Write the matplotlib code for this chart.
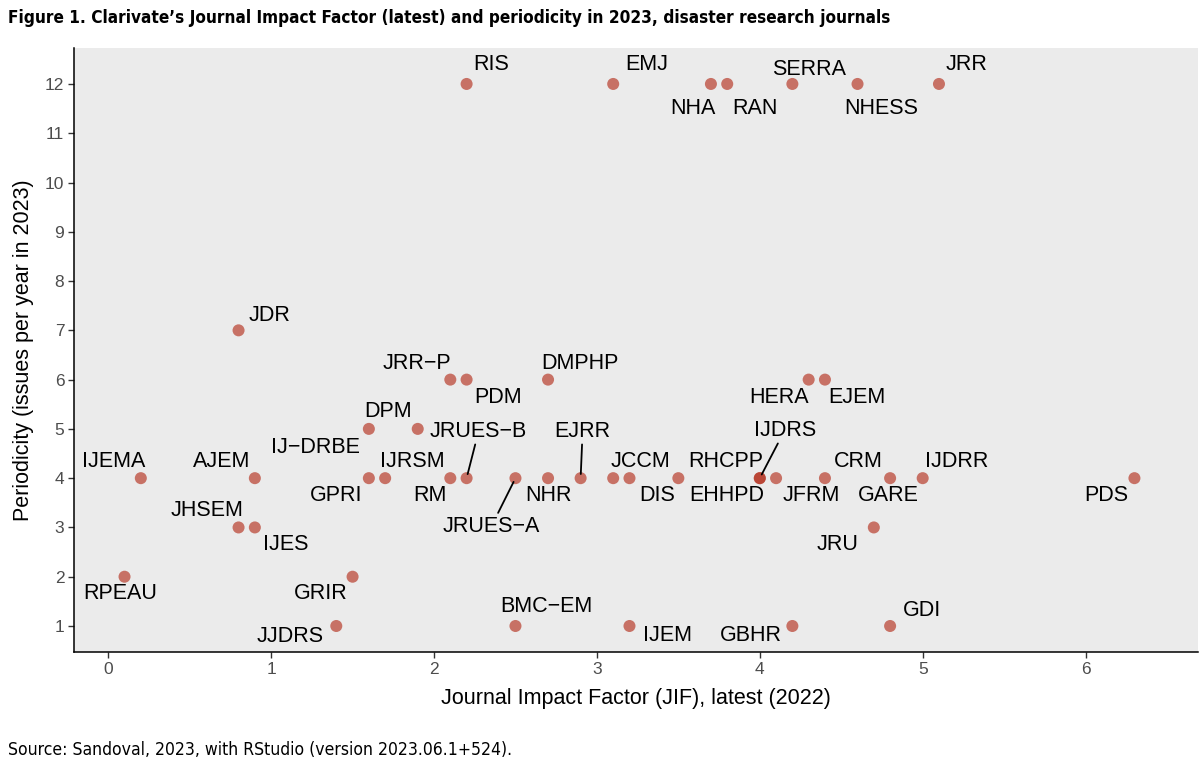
import matplotlib
matplotlib.use("Agg")
import matplotlib.pyplot as plt

# journals: abbreviation, JIF (2022), issues per year (2023)
journals = ["RIS", "EMJ", "NHA", "RAN", "SERRA", "NHESS", "JRR",
            "JDR",
            "JRR-P", "PDM", "DMPHP", "HERA", "EJEM",
            "IJ-DRBE", "DPM",
            "IJEMA", "AJEM", "GPRI", "IJRSM", "RM", "JRUES-B", "JRUES-A", "NHR",
            "EJRR", "JCCM", "DIS", "RHCPP", "EHHPD", "IJDRS", "JFRM", "CRM",
            "GARE", "IJDRR", "PDS",
            "JHSEM", "IJES", "JRU",
            "RPEAU", "GRIR",
            "JJDRS", "BMC-EM", "IJEM", "GBHR", "GDI"]
jif = [2.2, 3.1, 3.7, 3.8, 4.2, 4.6, 5.1,
       0.8,
       2.1, 2.2, 2.7, 4.3, 4.4,
       1.6, 1.9,
       0.2, 0.9, 1.6, 1.7, 2.1, 2.2, 2.5, 2.7,
       2.9, 3.1, 3.2, 3.5, 4.0, 4.0, 4.1, 4.4,
       4.8, 5.0, 6.3,
       0.8, 0.9, 4.7,
       0.1, 1.5,
       1.4, 2.5, 3.2, 4.2, 4.8]
issues = [12, 12, 12, 12, 12, 12, 12,
          7,
          6, 6, 6, 6, 6,
          5, 5,
          4, 4, 4, 4, 4, 4, 4, 4,
          4, 4, 4, 4, 4, 4, 4, 4,
          4, 4, 4,
          3, 3, 3,
          2, 2,
          1, 1, 1, 1, 1]

# label placement (pixel offsets from the point, repel-style)
label_offsets = {
    "RIS": (25, 19), "EMJ": (34, 19), "NHA": (-18, -25), "RAN": (28, -25),
    "SERRA": (17, 14), "NHESS": (24, -25), "JRR": (28, 19),
    "JDR": (31, 15),
    "JRR-P": (-33, 16), "PDM": (31, -18), "DMPHP": (32, 16),
    "HERA": (-30, -18), "EJEM": (32, -18),
    "IJ-DRBE": (-53, -19), "DPM": (-30, 17),
    "IJEMA": (-27, 17), "AJEM": (-33, 17), "GPRI": (-33, -17),
    "IJRSM": (27, 17), "RM": (-20, -17), "JRUES-B": (12, 47),
    "JRUES-A": (-24, -48), "NHR": (0, -17), "EJRR": (2, 47),
    "JCCM": (27, 17), "DIS": (28, -17), "RHCPP": (47, 17),
    "EHHPD": (-33, -17), "IJDRS": (25, 48), "JFRM": (35, -17),
    "CRM": (33, 17), "GARE": (-2, -17), "IJDRR": (34, 17), "PDS": (-28, -17),
    "JHSEM": (-32, 17), "IJES": (31, -17), "JRU": (-36, -17),
    "RPEAU": (-4, -17), "GRIR": (-32, -17),
    "JJDRS": (-46, -11), "BMC-EM": (31, 19), "IJEM": (38, -10),
    "GBHR": (-41, -10), "GDI": (32, 15),
}
with_segment = ["JRUES-B", "JRUES-A", "EJRR", "IJDRS"]

plt.rcParams["font.family"] = ["Liberation Sans", "DejaVu Sans"]

fig = plt.figure(figsize=(12, 7.69), dpi=100)
ax = fig.add_axes([0.0617, 0.152, 0.9366, 0.7856])
ax.set_facecolor("#EBEBEB")

ax.scatter(jif, issues, s=75, color="#B4301E", alpha=0.65,
           edgecolors="none", zorder=3)

for name, x, y in zip(journals, jif, issues):
    dx, dy = label_offsets[name]
    txt = name.replace("-", "\u2212")
    if name in with_segment:
        ax.annotate(txt, (x, y), xytext=(dx, dy), textcoords="offset pixels",
                    ha="center", va="center", fontsize=15.5, color="black",
                    arrowprops=dict(arrowstyle="-", color="black", lw=1.3,
                                    shrinkA=0, shrinkB=3), zorder=4)
    else:
        ax.annotate(txt, (x, y), xytext=(dx, dy), textcoords="offset pixels",
                    ha="center", va="center", fontsize=15.5, color="black",
                    zorder=4)

ax.set_xlim(-0.21, 6.69)
ax.set_ylim(0.47, 12.73)
ax.set_xticks(range(0, 7))
ax.set_yticks(range(1, 13))

for side in ["top", "right"]:
    ax.spines[side].set_visible(False)
for side in ["left", "bottom"]:
    ax.spines[side].set_linewidth(1.1)
    ax.spines[side].set_color("black")
ax.tick_params(axis="both", length=4, width=1, color="#333333",
               labelcolor="#4D4D4D", labelsize=12.5, pad=3)

ax.set_xlabel("Journal Impact Factor (JIF), latest (2022)", fontsize=15.5,
              labelpad=8)
ax.set_ylabel("Periodicity (issues per year in 2023)", fontsize=15.5,
              labelpad=8)

fig.text(0.007, 0.976,
         "Figure 1. Clarivate\u2019s Journal Impact Factor (latest) and periodicity in 2023, disaster research journals",
         family=["DejaVu Sans"], fontstretch="condensed",
         fontweight="bold", fontsize=12.3, va="center", ha="left")
fig.text(0.007, 0.025, "Source: Sandoval, 2023, with RStudio (version 2023.06.1+524).",
         family=["DejaVu Sans"], fontstretch="condensed",
         fontsize=12.6, va="center", ha="left")

fig.savefig("out.png", dpi=100)
